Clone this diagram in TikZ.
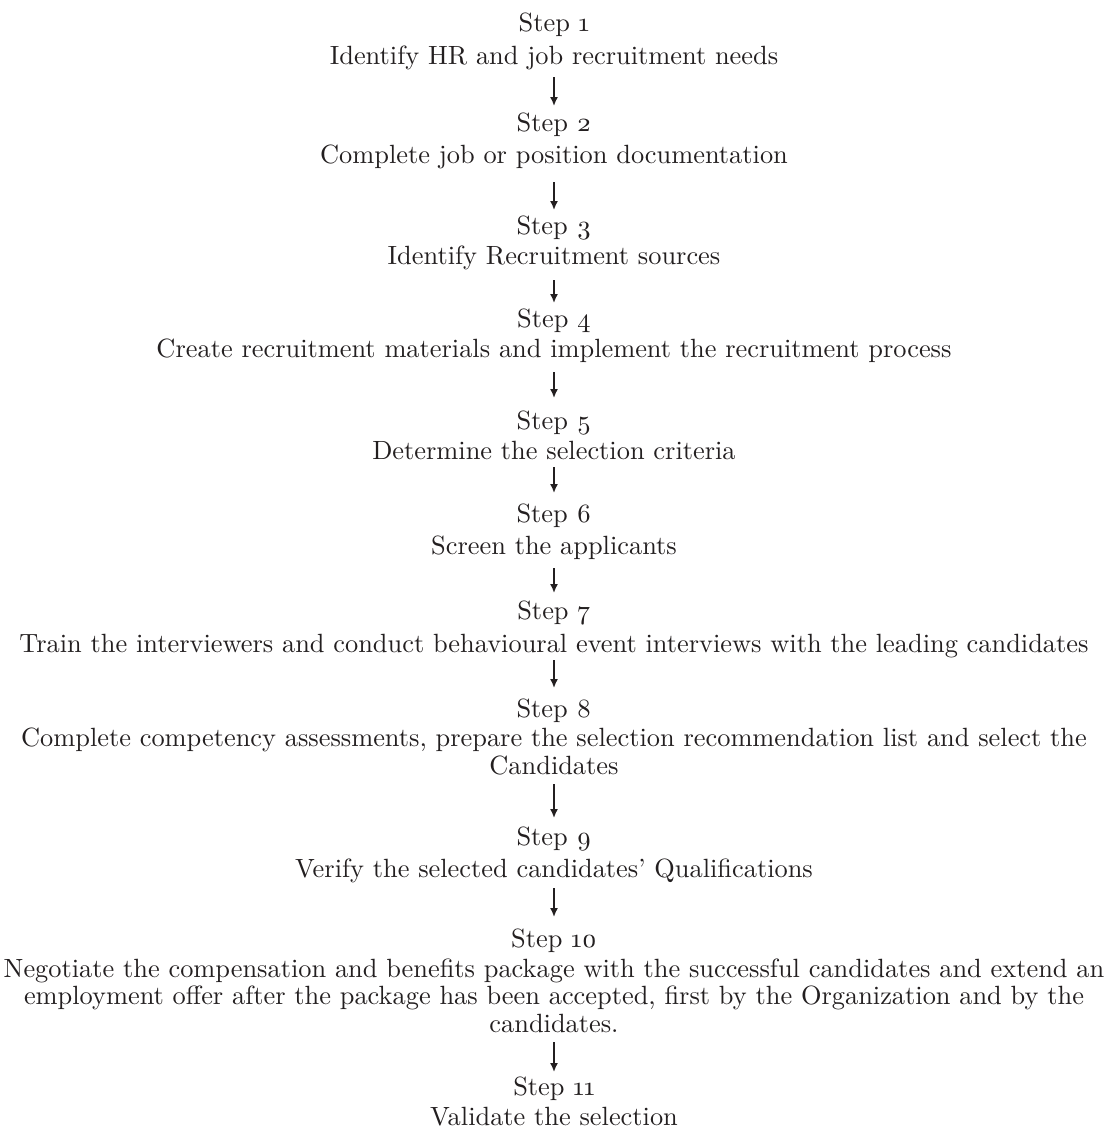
\documentclass[tikz,border=0pt]{standalone}
\usepackage{fontspec}
\setmainfont{Latin Modern Roman}[Numbers=OldStyle]
\usetikzlibrary{arrows.meta}
\definecolor{ink}{HTML}{231F20}
\newcommand{\flowfont}{\fontsize{10.55}{11}\selectfont}
\begin{document}
\begin{tikzpicture}[x=0.4pt,y=-0.4pt,
  lbl/.style={font=\flowfont, text=ink, inner sep=0pt, anchor=base, align=center},
  arr/.style={draw=ink, line width=0.65pt, -{Latex[length=3.6pt,width=3.2pt]}}]
\useasboundingbox (0,0) rectangle (1107,1142);
% steps and texts (base anchors = baseline of last line, y in px downward)
\node[lbl] (s1)  at (554,31)   {Step 1};
\node[lbl] (t1)  at (554,64)   {Identify HR and job recruitment needs};
\node[lbl] (s2)  at (554,131)  {Step 2};
\node[lbl] (t2)  at (554,163)  {Complete job or position documentation};
\node[lbl] (s3)  at (554,234)  {Step 3};
\node[lbl] (t3)  at (554,264)  {Identify Recruitment sources};
\node[lbl] (s4)  at (554,327)  {Step 4};
\node[lbl] (t4)  at (554,357)  {Create recruitment materials and implement the recruitment process};
\node[lbl] (s5)  at (554,429)  {Step 5};
\node[lbl] (t5)  at (554,459)  {Determine the selection criteria};
\node[lbl] (s6)  at (554,522)  {Step 6};
\node[lbl] (t6)  at (554,554)  {Screen the applicants};
\node[lbl] (s7)  at (554,619)  {Step 7};
\node[lbl] (t7)  at (554,652)  {Train the interviewers and conduct behavioural event interviews with the leading candidates};
\node[lbl] (s8)  at (554,717)  {Step 8};
\node[lbl] (t8)  at (554,774)  {Complete competency assessments, prepare the selection recommendation list and select the\\Candidates};
\node[lbl] (s9)  at (554,845)  {Step 9};
\node[lbl] (t9)  at (554,877)  {Verify the selected candidates' Qualifications};
\node[lbl] (s10) at (554,947)  {Step 10};
\node[lbl] (t10) at (554,1032) {Negotiate the compensation and benefits package with the successful candidates and extend an\\employment offer after the package has been accepted, first by the Organization and by the\\candidates.};
\node[lbl] (s11) at (554,1095) {Step 11};
\node[lbl] (t11) at (554,1125) {Validate the selection};
% connectors
\draw[arr] (t1.south |- 0,77)   -- (s2.north |- 0,106);
\draw[arr] (t2.south |- 0,182)  -- (s3.north |- 0,210);
\draw[arr] (t3.south |- 0,280)  -- (s4.north |- 0,303);
\draw[arr] (t4.south |- 0,372)  -- (s5.north |- 0,398);
\draw[arr] (t5.south |- 0,467)  -- (s6.north |- 0,493);
\draw[arr] (t6.south |- 0,568)  -- (s7.north |- 0,593);
\draw[arr] (t7.south |- 0,660)  -- (s8.north |- 0,688);
\draw[arr] (t8.south |- 0,784)  -- (s9.north |- 0,818);
\draw[arr] (t9.south |- 0,888)  -- (s10.north |- 0,917);
\draw[arr] (t10.south |- 0,1042) -- (s11.north |- 0,1072);
\end{tikzpicture}
\end{document}
